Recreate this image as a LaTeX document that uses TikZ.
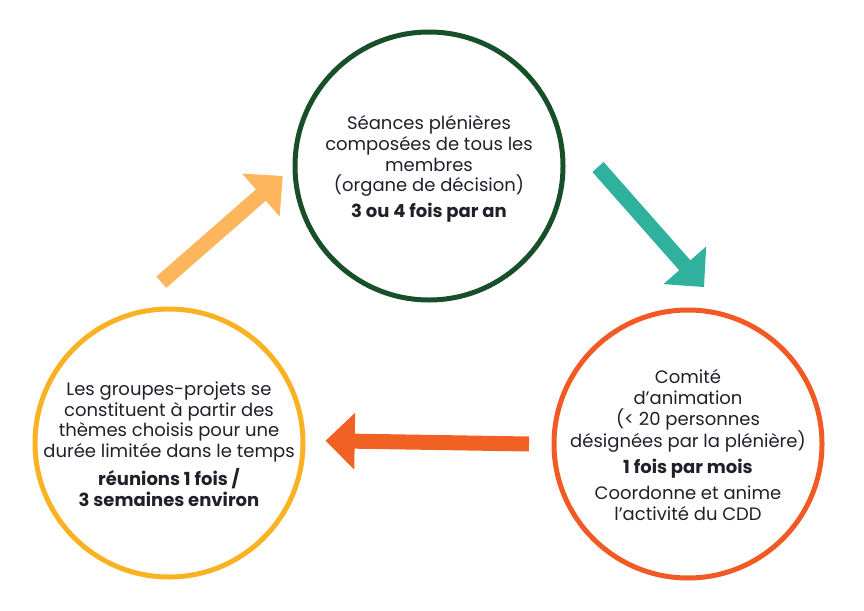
\documentclass[tikz,border=0pt]{standalone}
\usepackage{fontspec}
\setmainfont{Poppins}
\usetikzlibrary{calc}
\definecolor{cgreen}{HTML}{174F2A}
\definecolor{cyellow}{HTML}{FAB223}
\definecolor{corange}{HTML}{F15A24}
\definecolor{alight}{HTML}{FDB65B}
\definecolor{ateal}{HTML}{30B19E}
\definecolor{aorange}{HTML}{F26124}
\definecolor{ctext}{HTML}{231F2A}
\newcommand\fatarrow[3]{% #1 colour, #2 tail, #3 tip
  \coordinate (#2h) at ($(#3)!29pt!(#2)$);
  \fill[#1] ($(#2)!7.5pt!90:(#3)$) -- ($(#2h)!7.5pt!-90:(#2)$) -- ($(#2h)!28.5pt!-90:(#2)$)
    -- (#3) -- ($(#2h)!28.5pt!90:(#2)$) -- ($(#2h)!7.5pt!90:(#2)$) -- ($(#2)!7.5pt!-90:(#3)$) -- cycle;}
\begin{document}
\begin{tikzpicture}[x=1pt,y=-1pt,
  ring/.style={circle,line width=5pt,minimum size=268pt,inner sep=0pt},
  txt/.style={align=center,text=ctext,inner sep=0pt,font=\fontsize{18}{20.8}\selectfont}]
\useasboundingbox (0,0) rectangle (864,610);
\node[ring,draw=cgreen] (top) at (429,166) {};
\node[ring,draw=cyellow] (left) at (169,443) {};
\node[ring,draw=corange] (right) at (688,444) {};
\node[txt] (toptxt) at ($(top)+(0,3)$) {Séances plénières\\composées de tous les\\membres\\(organe de décision)\\[5pt]\textbf{3 ou 4 fois par an}};
\node[txt] (lefttxt) at ($(left)+(0,1)$) {Les groupes-projets se\\constituent à partir des\\thèmes choisis pour une\\durée limitée dans le temps\\[5pt]\textbf{réunions 1 fois /}\\\textbf{3 semaines environ}};
\node[txt] (righttxt) at ($(right)+(0,1)$) {Comité\\d’animation\\(< 20 personnes\\désignées par la plénière)\\[5pt]\textbf{1 fois par mois}\\[5pt]Coordonne et anime\\l’activité du CDD};
\coordinate (a1s) at (161.3,282.2);
\coordinate (a1e) at (282.7,176);
\coordinate (a2s) at (598,167);
\coordinate (a2e) at (704,287);
\coordinate (a3s) at (529,444);
\coordinate (a3e) at (325.7,440.7);
\fatarrow{alight}{a1s}{a1e}
\fatarrow{ateal}{a2s}{a2e}
\fatarrow{aorange}{a3s}{a3e}
\end{tikzpicture}
\end{document}
